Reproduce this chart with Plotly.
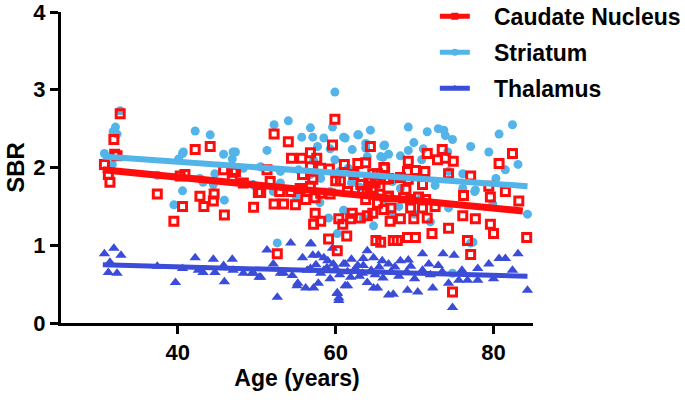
import plotly.graph_objects as go

# Caudate Nucleus (open red squares)
caudate_age = [32.7, 31.9, 30.7, 31.2, 31.4, 32.3, 32.0, 37.4, 39.5, 40.6, 40.3, 40.9, 42.2, 44.1,
               42.8, 43.3, 44.6, 44.5, 45.9, 45.8, 47.0, 46.9, 48.3, 49.6, 50.2,
               59.9, 52.2, 54.0, 59.6, 64.4, 54.4, 55.7, 56.8, 57.6, 56.8, 58.1, 59.2, 61.1, 62.8,
               63.8, 51.3, 47.3, 55.8, 57.1, 60.0, 60.6, 62.3, 64.7, 51.7, 50.5, 52.9, 54.3, 55.5,
               56.8, 58.1, 59.3, 61.5, 63.4, 52.2, 53.4, 54.9, 56.2, 57.4, 57.4, 60.4, 62.1, 64.0,
               58.1, 57.2, 59.1, 60.2, 52.6, 61.4, 60.9, 61.9, 63.1, 64.7, 65.1, 65.7, 67.3, 66.9,
               66.1, 65.3, 66.6, 64.0, 63.8, 66.1, 65.3, 66.3, 64.2, 64.7, 65.0, 65.6, 64.5, 63.2,
               71.6, 73.5, 72.9, 73.9, 74.9, 69.2, 66.2, 69.1, 70.1, 71.3, 66.7, 68.2, 69.2, 71.0,
               74.3, 77.1, 82.4, 80.7, 79.4, 79.6, 81.5, 83.2, 76.2, 68.9, 68.6, 66.7, 70.5, 69.5,
               71.4, 71.0, 72.6, 69.5, 67.0, 76.1, 77.7, 68.2, 69.9, 71.6,
               74.3, 72.2, 76.7, 77.1, 79.6, 80.0, 84.2, 70.1, 69.1, 67.8, 74.8]
caudate_sbr = [2.69, 2.36, 2.04, 1.91, 1.81, 2.15, 2.17, 1.66, 1.31, 1.50, 1.89, 1.91, 2.23, 2.27,
               1.63, 1.50, 1.66, 1.57, 1.39, 1.97, 1.94, 1.86, 1.80, 1.49, 1.68,
               2.62, 2.43, 2.33, 2.29, 2.27, 2.12, 2.12, 2.19, 2.12, 2.01, 1.99, 1.98, 2.04, 2.05,
               2.06, 1.97, 1.95, 1.91, 1.85, 1.83, 1.83, 1.91, 1.92, 1.82, 1.68, 1.69, 1.69, 1.73,
               1.76, 1.67, 1.66, 1.69, 1.69, 1.53, 1.53, 1.52, 1.59, 1.61, 1.41, 1.34, 1.41, 1.38,
               1.31, 1.27, 1.08, 0.93, 0.89, 1.12, 1.27, 1.34, 1.35, 1.41, 1.06, 1.04, 1.06, 1.31,
               1.46, 1.54, 1.63, 1.69, 1.59, 2.00, 1.92, 1.85, 1.82, 1.73, 1.80, 1.76, 1.86, 1.78,
               2.18, 2.23, 2.10, 2.12, 2.08, 2.08, 1.99, 1.95, 1.96, 1.95, 1.86, 1.87, 1.85, 1.78,
               1.92, 1.89, 2.18, 2.05, 1.76, 1.62, 1.69, 1.57, 1.64, 1.72, 1.61, 1.63, 1.62, 1.59,
               1.59, 1.48, 1.50, 1.48, 1.48, 1.38, 1.34, 1.34, 1.34, 1.35,
               1.22, 1.15, 1.06, 0.88, 1.27, 1.15, 1.10, 1.10, 1.10, 1.06, 0.40]

# Striatum (light blue circles)
striatum_age = [32.7, 32.1, 32.3, 31.8, 30.7, 31.7, 37.4, 40.6, 40.7, 40.1, 40.6, 39.5, 42.2, 44.1,
                45.8, 47.0, 46.9, 44.7, 42.8, 43.2, 44.5, 45.9, 48.3, 49.6,
                59.9, 52.2, 54.0, 56.8, 59.6, 61.0, 62.8, 64.4, 55.7, 57.1, 58.5, 47.3, 51.3, 57.7,
                59.3, 62.1, 63.8, 59.9, 57.2, 64.0, 53.0, 55.3, 56.8, 61.6, 58.1, 49.6, 53.0, 48.2,
                59.1, 59.3, 52.1, 61.2, 62.9, 60.2, 52.6, 66.1, 66.0, 63.8, 50.5,
                69.2, 71.6, 73.0, 73.7, 73.9, 74.8, 82.4, 80.7, 77.1, 79.4, 83.1, 81.5, 69.9, 71.1,
                69.2, 68.2, 66.7, 65.7, 66.2, 74.2, 70.9, 74.3, 76.1, 77.7, 80.3, 79.9, 84.3, 74.3,
                72.6, 70.8, 68.2, 67.2, 77.1, 74.8, 76.1, 77.6, 64.8, 77.4,
                60.5, 62.0, 63.0, 65.0, 58.0, 55.0, 66.0, 68.0, 61.0, 63.5, 67.0, 70.0, 72.0]
striatum_sbr = [2.73, 2.52, 2.43, 2.46, 2.18, 2.04, 1.90, 2.18, 2.20, 2.11, 1.70, 1.52, 2.47, 2.42,
                2.17, 2.20, 2.11, 1.92, 1.86, 1.81, 1.78, 1.58, 1.99, 1.77,
                2.97, 2.55, 2.60, 2.51, 2.52, 2.39, 2.42, 2.48, 2.39, 2.39, 2.38, 2.20, 2.22, 2.27,
                2.24, 2.23, 2.31, 2.10, 2.09, 2.14, 1.95, 1.97, 1.91, 1.99, 1.86, 1.78, 1.80, 1.80,
                1.35, 1.69, 1.69, 2.38, 2.42, 1.15, 1.03, 2.28, 2.13, 2.25, 2.01,
                2.52, 2.46, 2.50, 2.48, 2.41, 2.36, 2.55, 2.43, 2.27, 2.20, 2.04, 1.97, 2.32, 2.24,
                2.22, 2.15, 2.17, 2.14, 2.29, 2.20, 2.10, 1.95, 1.92, 1.71, 1.86, 1.53, 1.40, 1.48,
                1.77, 1.61, 1.73, 1.82, 1.03, 0.64, 1.73, 1.69, 1.25, 1.04,
                1.95, 1.80, 1.75, 1.65, 1.55, 1.62, 1.58, 1.50, 1.45, 1.35, 1.40, 1.40, 1.30]

# Thalamus (blue triangles)
thalamus_age = [30.7, 31.9, 32.8, 31.4, 31.2, 32.3, 37.4, 39.7, 40.6, 42.2, 42.6, 43.2, 44.5, 44.7,
                45.8, 45.9, 46.9, 47.0, 48.3, 49.6, 50.3, 51.3, 52.1, 52.6, 53.0, 54.3, 55.2, 56.2,
                55.8, 56.4, 56.8, 57.1, 57.8, 58.5, 59.6, 55.1, 57.2, 57.8, 60.2, 60.4, 61.2, 64.0,
                64.8, 63.5, 64.0, 64.8, 61.2, 62.8, 58.9, 56.8, 54.5, 53.4, 58.1, 59.3, 61.9, 63.4,
                50.5, 49.4, 56.9, 59.7, 61.0, 65.9, 66.7, 68.2, 69.2, 71.0, 71.8, 73.6, 75.0, 73.0,
                75.6, 76.7, 78.0, 79.4, 80.7, 81.5, 82.4, 83.1, 84.3, 80.0, 74.8, 74.3, 72.3, 70.4,
                69.1, 67.3, 66.7, 65.3, 61.5, 60.4, 60.2,
                57.5, 58.5, 59.0, 60.0, 60.5, 61.5, 62.0, 62.5, 63.0, 63.5, 64.5, 65.0, 65.5, 66.0,
                67.0, 67.5, 68.0, 69.0, 69.5, 70.0, 71.0, 72.0, 73.5, 76.0, 78.0]
thalamus_sbr = [0.89, 0.96, 0.87, 0.78, 0.65, 0.64, 0.73, 0.52, 0.70, 0.84, 0.68, 0.65, 0.82, 0.65,
                0.74, 0.53, 0.82, 0.68, 0.64, 0.64, 0.59, 0.94, 0.76, 0.33, 0.64, 1.03, 0.51, 0.45,
                0.84, 0.68, 1.02, 0.87, 0.87, 0.84, 0.96, 0.48, 0.45, 0.51, 0.38, 0.29, 0.48, 0.93,
                0.84, 0.83, 0.52, 0.45, 0.76, 0.74, 0.71, 0.70, 0.61, 0.64, 0.64, 0.57, 0.59, 0.64,
                0.59, 0.64, 1.02, 0.76, 0.76, 0.80, 0.76, 0.80, 0.81, 0.89, 0.76, 0.89, 0.87, 0.74,
                0.55, 0.55, 0.55, 0.76, 0.83, 0.83, 0.68, 0.89, 0.42, 0.57, 0.20, 0.51, 0.45, 0.40,
                0.42, 0.37, 0.36, 0.45, 0.48, 0.32, 0.39,
                0.75, 0.68, 0.80, 0.70, 0.62, 0.66, 0.82, 0.70, 0.60, 0.74, 0.68, 0.62, 0.72, 0.58,
                0.66, 0.72, 0.60, 0.66, 0.73, 0.57, 0.68, 0.62, 0.66, 0.68, 0.70]

# regression lines (start / end)
caudate_fit_age = [30.5, 83.7]
caudate_fit_sbr = [1.97, 1.44]
striatum_fit_age = [30.5, 84.3]
striatum_fit_sbr = [2.14, 1.76]
thalamus_fit_age = [30.5, 84.3]
thalamus_fit_sbr = [0.75, 0.60]

RED = '#FF0D0D'
LBLUE = '#52B4E8'
BLUE = '#3A4CD8'
FONT = 'Liberation Sans, Arial, sans-serif'

fig = go.Figure()

fig.add_trace(go.Scatter(x=thalamus_age, y=thalamus_sbr, mode='markers', showlegend=False,
                         marker=dict(symbol='triangle-up', size=10, color=BLUE)))
fig.add_trace(go.Scatter(x=striatum_age, y=striatum_sbr, mode='markers', showlegend=False,
                         marker=dict(symbol='circle', size=9, color=LBLUE)))
fig.add_trace(go.Scatter(x=caudate_age, y=caudate_sbr, mode='markers', showlegend=False,
                         marker=dict(symbol='square-open', size=8, color=RED,
                                     line=dict(width=3, color=RED))))

fig.add_trace(go.Scatter(x=thalamus_fit_age, y=thalamus_fit_sbr, mode='lines', showlegend=False,
                         line=dict(color=BLUE, width=5)))
fig.add_trace(go.Scatter(x=striatum_fit_age, y=striatum_fit_sbr, mode='lines', showlegend=False,
                         line=dict(color=LBLUE, width=6)))
fig.add_trace(go.Scatter(x=caudate_fit_age, y=caudate_fit_sbr, mode='lines', showlegend=False,
                         line=dict(color=RED, width=7)))

# legend entries
for name, col, sym in [('Caudate Nucleus', RED, 'square'),
                       ('Striatum', LBLUE, 'circle'),
                       ('Thalamus', BLUE, 'triangle-up')]:
    fig.add_trace(go.Scatter(x=[None], y=[None], mode='lines+markers',
                             name='\u00a0\u00a0\u00a0' + name,
                             legendgroup=name,
                             line=dict(color=col, width=5),
                             marker=dict(symbol=sym, size=7, color=col)))

axis_common = dict(showline=True, linecolor='black', linewidth=3, ticks='outside',
                   ticklen=8, tickwidth=3, tickcolor='black', showgrid=False, zeroline=False,
                   automargin=False, ticklabeloverflow='allow',
                   tickfont=dict(family=FONT, size=22, color='black', weight='bold'))

fig.update_layout(
    width=685, height=405,
    paper_bgcolor='white', plot_bgcolor='white',
    margin=dict(l=61, r=152, t=12, b=82, autoexpand=False),
    font=dict(family=FONT, color='black'),
    xaxis=dict(range=[25.2, 85], tickvals=[40, 60, 80],
               title=dict(text='Age (years)', standoff=0,
                          font=dict(family=FONT, size=23, weight='bold')),
               **axis_common),
    yaxis=dict(range=[0, 4], tickvals=[0, 1, 2, 3, 4], **axis_common),
    legend=dict(x=0.792, y=1.055, xanchor='left', yanchor='top', bgcolor='rgba(0,0,0,0)',
                font=dict(family=FONT, size=23, color='black', weight='bold'),
                tracegroupgap=3),
    annotations=[dict(text='SBR', textangle=-90, xref='paper', yref='paper',
                      x=-0.097, y=0.5, xanchor='center', yanchor='middle', showarrow=False,
                      borderpad=0,
                      font=dict(family=FONT, size=24, color='black', weight='bold'))],
)

# page body has a default 8px margin; drop it so the figure sits at the window origin
fig.write_html("out.html", config={'displayModeBar': False},
               post_script="document.body.style.margin='0';")
